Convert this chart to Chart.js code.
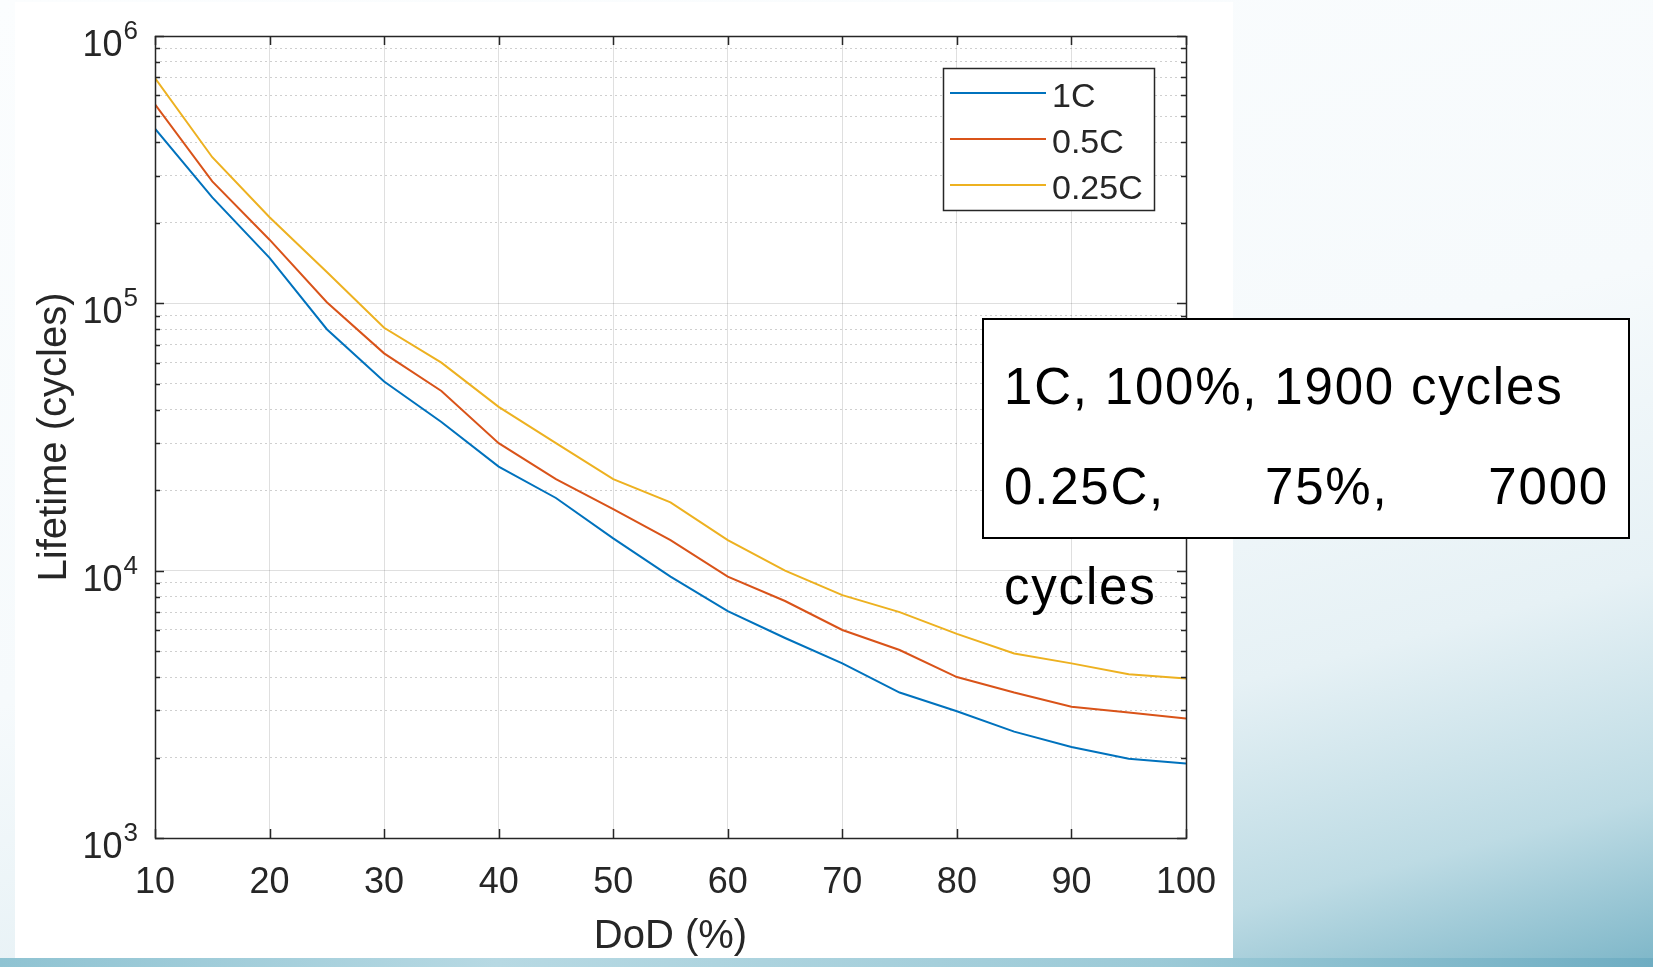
<!DOCTYPE html>
<html>
<head>
<meta charset="utf-8">
<script src="https://cdn.jsdelivr.net/npm/chart.js@4/dist/chart.umd.min.js"></script>
<style>
  html, body { margin: 0; padding: 0; }
  body {
    width: 1653px; height: 967px; overflow: hidden; position: relative;
    background: linear-gradient(165deg, #fbfdfe 0%, #f6fafc 50%, #e6f1f5 72%, #bddbe4 88%, #7db6c8 100%);
    font-family: "Liberation Sans", Arial, sans-serif;
  }
  #strip { position: absolute; left: 0; top: 958px; width: 1653px; height: 9px;
    background: linear-gradient(90deg, #8fc3d2, #b7d9e3 30%, #9ccad7 70%, #6fadc2); }
  #panel { position: absolute; left: 15px; top: 2px; width: 1218px; height: 957px; background: #fff; }
  #chart { position: absolute; left: 0; top: 0; }
  #note {
    position: absolute; left: 982px; top: 318px; width: 605px; height: 191px;
    padding: 17px 19px 9px 20px; border: 2px solid #000; background: #fff;
    font-size: 51px; line-height: 100px; letter-spacing: 1.8px; color: #000;
  }
  #note .l { display: block; white-space: nowrap; }
  #note .j { display: block; text-align: justify; text-align-last: justify; white-space: normal; }
</style>
</head>
<body>
<div id="panel"></div>
<div id="strip"></div>
<canvas id="chart" width="1653" height="967"></canvas>
<div id="note"><span class="l">1C, 100%, 1900 cycles</span><span class="j">0.25C, 75%, 7000</span><span class="l">cycles</span></div>
<script>
// DoD (%) em passos de 5
const dod = [10, 15, 20, 25, 30, 35, 40, 45, 50, 55, 60, 65, 70, 75, 80, 85, 90, 95, 100]

// vida útil (ciclos)
const life1C = [450000, 249000, 148000, 80000, 51000, 36000, 24500, 18700, 13200, 9500, 7060, 5600, 4500, 3500, 2980, 2500, 2190, 1980, 1900]
const life05C = [555000, 286000, 173000, 101000, 65000, 47000, 30000, 22000, 17000, 13000, 9500, 7700, 6000, 5050, 4000, 3500, 3100, 2950, 2800]
const life025C = [696000, 352000, 210000, 131000, 81000, 60000, 41000, 30000, 22000, 18000, 13000, 10000, 8100, 7000, 5800, 4900, 4500, 4100, 3950]

const seriesNames = ['1C', '0.5C', '0.25C']
const seriesColors = ['#0072BD', '#D95319', '#EDB120']

const xTicks = [10, 20, 30, 40, 50, 60, 70, 80, 90, 100]
const yExponents = [3, 4, 5, 6]
const yMinorMult = [2, 3, 4, 5, 6, 7, 8, 9]

const axisColor = '#262626'
const fontFamily = '"Liberation Sans", Arial, sans-serif'
const majorValues = yExponents.map(e => Math.pow(10, e))
const minorValues = []
yExponents.slice(0, -1).forEach(e => yMinorMult.forEach(m => minorValues.push(m * Math.pow(10, e))))

// --- Caixa, ticks internos, rótulos 10^n e legenda ---
const matlabAxes = {
    id: 'matlabAxes',
    afterDatasetsDraw(chart) {
        const { ctx, chartArea: a, scales } = chart
        const x = scales.x, y = scales.y
        ctx.save()
        ctx.strokeStyle = axisColor
        ctx.lineWidth = 1.5
        // ticks
        ctx.beginPath()
        xTicks.forEach(v => {
            const px = Math.round(x.getPixelForValue(v)) + 0.5
            ctx.moveTo(px, a.bottom); ctx.lineTo(px, a.bottom - 9)
            ctx.moveTo(px, a.top); ctx.lineTo(px, a.top + 9)
        })
        majorValues.forEach(v => {
            const py = Math.round(y.getPixelForValue(v)) + 0.5
            ctx.moveTo(a.left, py); ctx.lineTo(a.left + 9, py)
            ctx.moveTo(a.right, py); ctx.lineTo(a.right - 9, py)
        })
        minorValues.forEach(v => {
            const py = Math.round(y.getPixelForValue(v)) + 0.5
            ctx.moveTo(a.left, py); ctx.lineTo(a.left + 5, py)
            ctx.moveTo(a.right, py); ctx.lineTo(a.right - 5, py)
        })
        ctx.stroke()
        // caixa
        ctx.strokeRect(Math.round(a.left) + 0.5, Math.round(a.top) + 0.5, Math.round(a.right - a.left), Math.round(a.bottom - a.top))

        // rótulos 10^n
        ctx.fillStyle = axisColor
        ctx.textBaseline = 'alphabetic'
        yExponents.forEach(e => {
            const py = y.getPixelForValue(Math.pow(10, e))
            const right = a.left - 17
            ctx.font = '26px ' + fontFamily
            ctx.textAlign = 'right'
            const sup = String(e)
            ctx.fillText(sup, right, py + 3)
            const w = ctx.measureText(sup).width
            ctx.font = '36px ' + fontFamily
            ctx.fillText('10', right - w - 1, py + 20)
        })

        // legenda
        const lx = 943, ly = 68, lw = 211, lh = 142
        ctx.fillStyle = '#fff'
        ctx.fillRect(lx, ly, lw, lh)
        ctx.lineWidth = 1.5
        ctx.strokeStyle = axisColor
        ctx.strokeRect(lx + 0.5, ly + 0.5, lw, lh)
        ctx.font = '34px ' + fontFamily
        ctx.textAlign = 'left'
        ctx.textBaseline = 'middle'
        chart.data.datasets.forEach((ds, i) => {
            const ey = 93 + i * 46
            ctx.strokeStyle = ds.borderColor
            ctx.lineWidth = 2
            ctx.beginPath()
            ctx.moveTo(950, ey); ctx.lineTo(1046, ey)
            ctx.stroke()
            ctx.fillStyle = axisColor
            ctx.fillText(ds.label, 1052, ey + 5)
        })
        ctx.restore()
    }
}

const ctx = document.getElementById('chart').getContext('2d')
const datasets = [life1C, life05C, life025C].map((vals, i) => ({
    label: seriesNames[i],
    data: vals,
    borderColor: seriesColors[i],
    backgroundColor: seriesColors[i],
    borderWidth: 2,
    pointRadius: 0,
    tension: 0,
    yAxisID: 'y'
}))

new Chart(ctx, {
    type: 'line',
    data: { labels: dod, datasets },
    options: {
        responsive: false,
        animation: false,
        events: [],
        layout: { padding: { left: 0, top: 36, right: 467, bottom: 0 } },
        plugins: { legend: { display: false }, tooltip: { enabled: false } },
        scales: {
            x: {
                type: 'linear',
                min: 10, max: 100,
                afterBuildTicks: s => { s.ticks = xTicks.map(v => ({ value: v })) },
                afterFit: s => { s.height = 129 },
                ticks: { color: axisColor, font: { size: 36, family: fontFamily }, padding: 23, maxRotation: 0 },
                grid: { color: 'rgba(38,38,38,0.15)', lineWidth: 1, drawTicks: false },
                border: { display: false },
                title: { display: true, text: 'DoD (%)', color: axisColor, font: { size: 40, family: fontFamily }, padding: { top: 0, bottom: 6 } }
            },
            y: {
                type: 'logarithmic',
                position: 'left',
                min: 1000, max: 1000000,
                afterBuildTicks: s => { s.ticks = majorValues.map(v => ({ value: v })) },
                afterFit: s => { s.width = 155 },
                ticks: { display: false },
                grid: { color: 'rgba(38,38,38,0.15)', lineWidth: 1, drawTicks: false },
                border: { display: false },
                title: { display: true, text: 'Lifetime (cycles)', color: axisColor, font: { size: 40, family: fontFamily }, padding: { top: 31, bottom: 0 } }
            },
            yMinor: {
                type: 'logarithmic',
                position: 'left',
                min: 1000, max: 1000000,
                afterBuildTicks: s => { s.ticks = minorValues.map(v => ({ value: v })) },
                afterFit: s => { s.width = 0 },
                ticks: { display: false },
                grid: { color: 'rgba(38,38,38,0.22)', lineWidth: 1, drawTicks: false },
                border: { display: false, dash: [2, 3] }
            }
        }
    },
    plugins: [matlabAxes]
})
</script>
</body>
</html>
